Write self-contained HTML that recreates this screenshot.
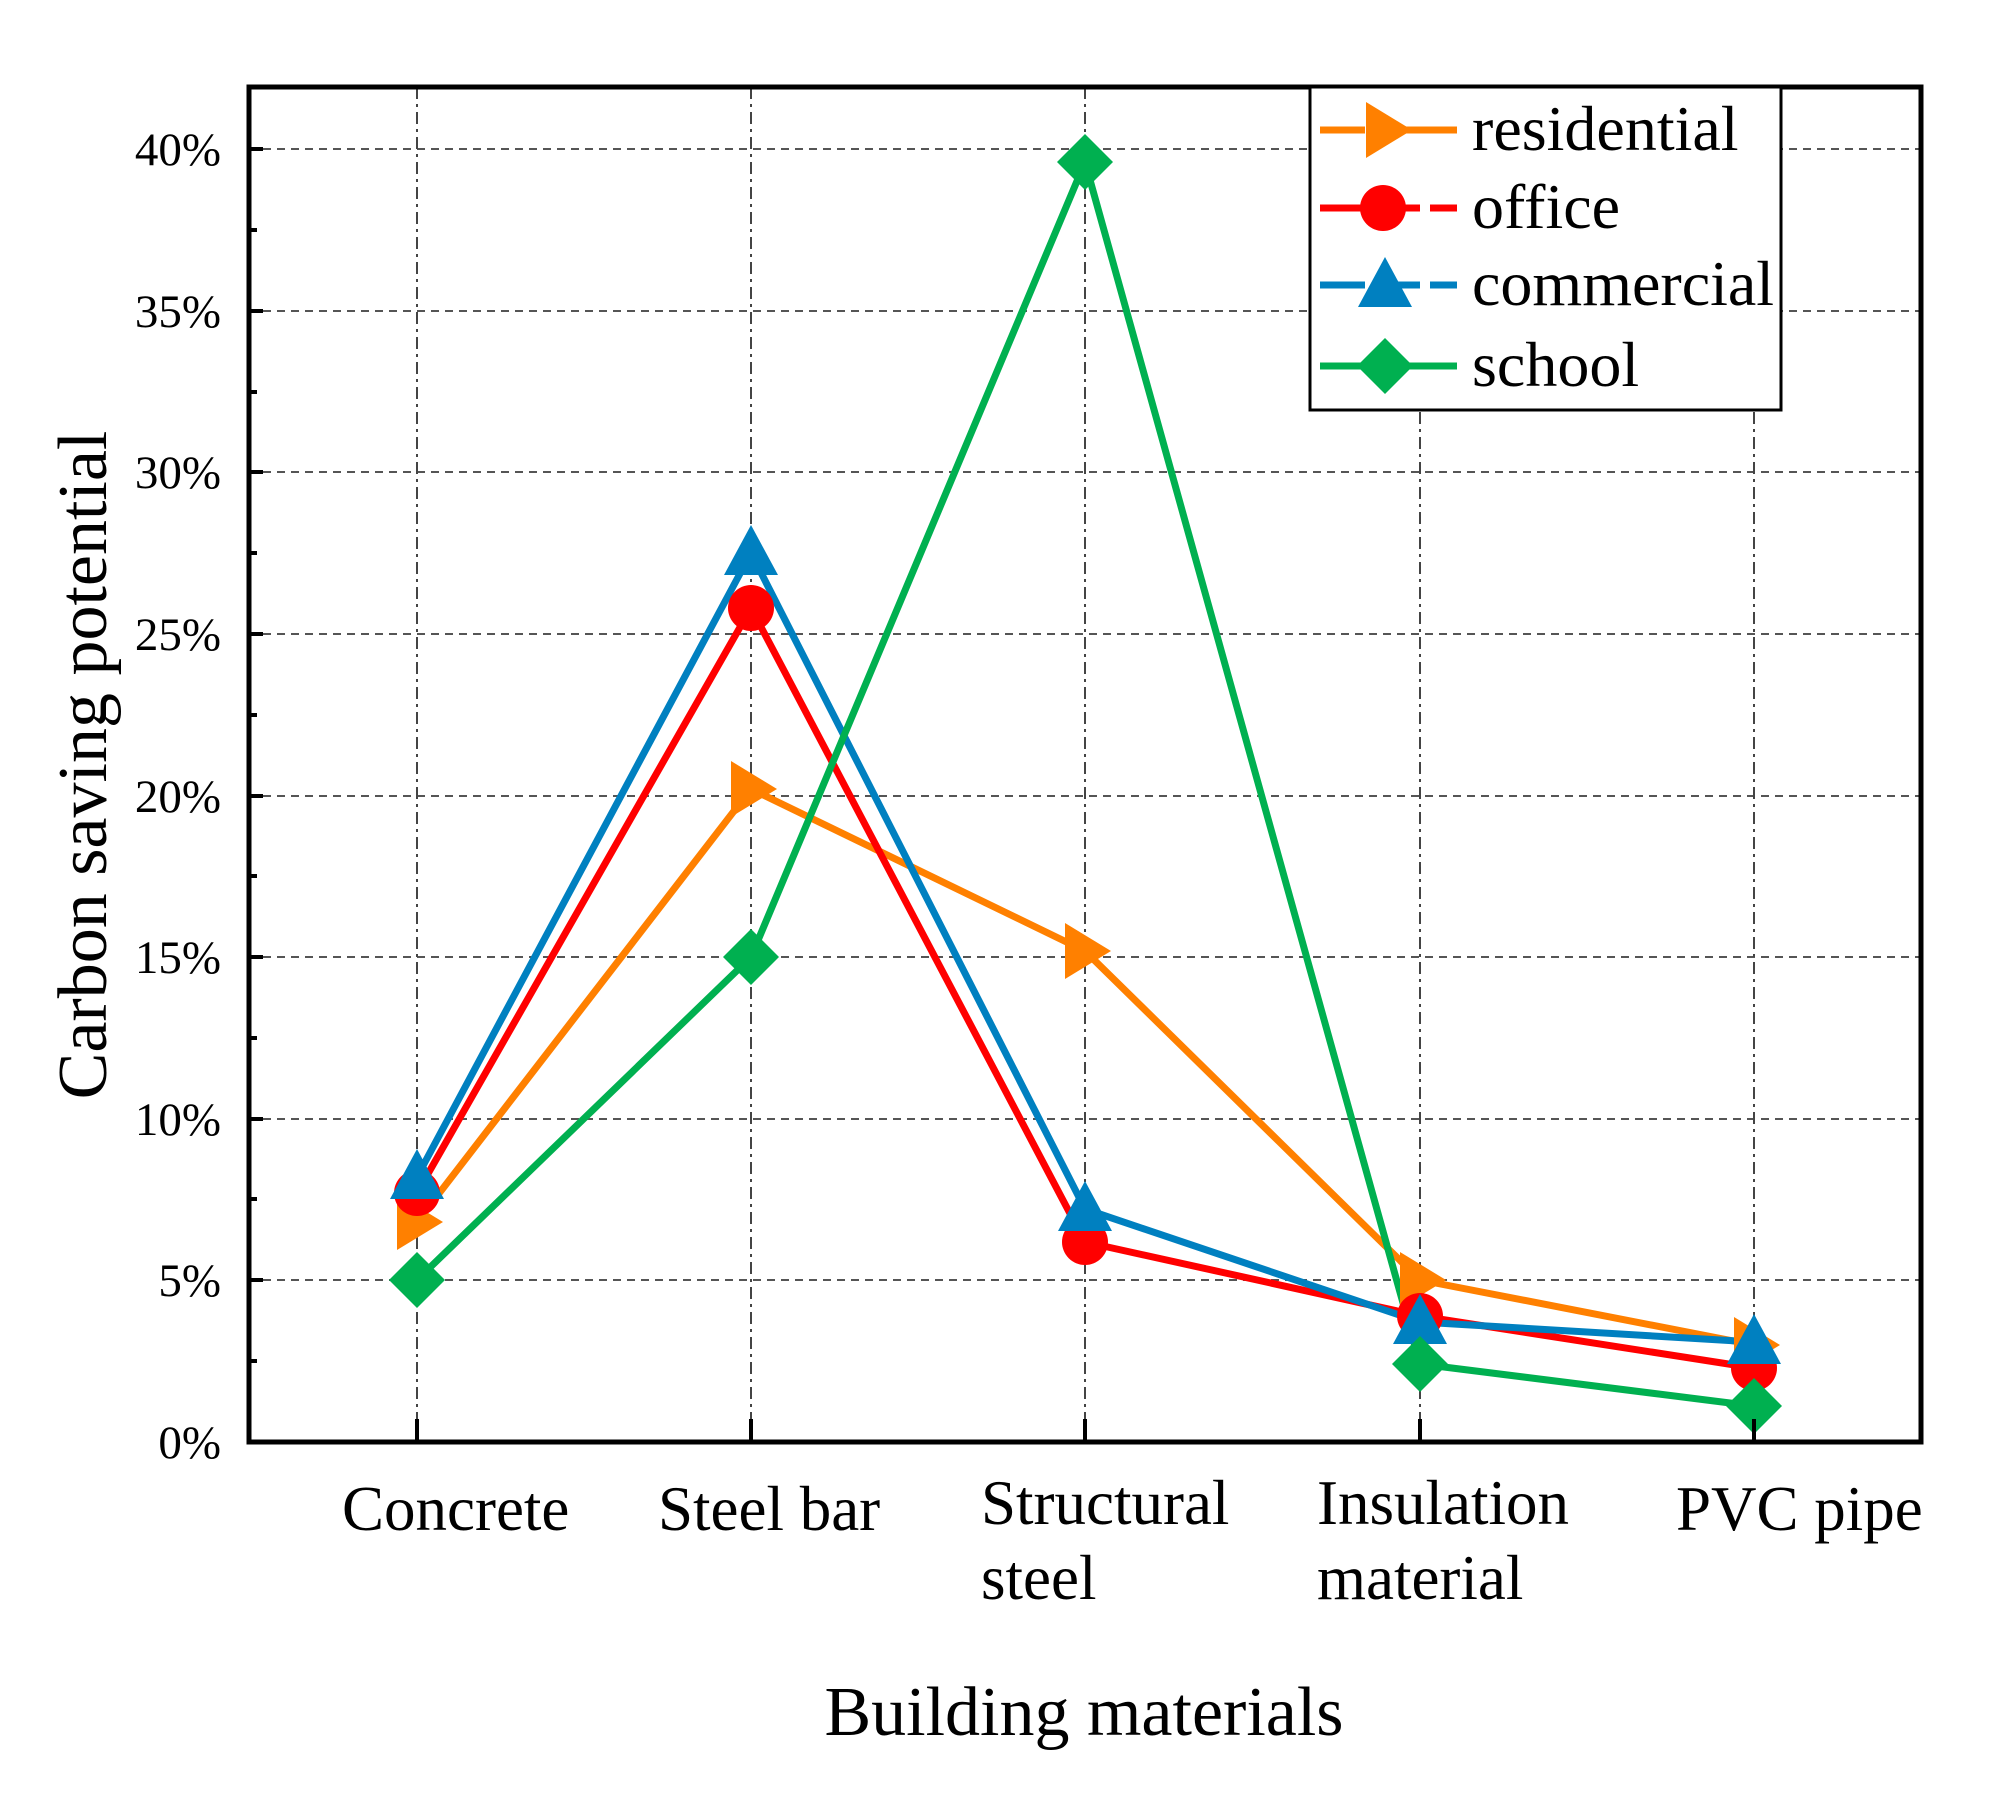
<!DOCTYPE html>
<html><head><meta charset="utf-8"><style>html,body{margin:0;padding:0;background:#fff}svg{display:block}</style></head>
<body>
<svg width="1999" height="1798" viewBox="0 0 1999 1798" xmlns="http://www.w3.org/2000/svg" font-family="Liberation Serif, serif">
<defs>
<g id="tri-r"><polygon points="-20,-28 26,0 -20,28"/></g>
<g id="circ"><circle r="23"/></g>
<g id="tri-u"><polygon points="0,-28 27,22 -27,22"/></g>
<g id="dia"><polygon points="0,-28 28,0 0,28 -28,0"/></g>
</defs>
<g stroke="#555" stroke-width="2" stroke-dasharray="8,6">
<line x1="249" y1="149" x2="1921" y2="149"/>
<line x1="249" y1="311" x2="1921" y2="311"/>
<line x1="249" y1="472" x2="1921" y2="472"/>
<line x1="249" y1="634" x2="1921" y2="634"/>
<line x1="249" y1="796" x2="1921" y2="796"/>
<line x1="249" y1="957" x2="1921" y2="957"/>
<line x1="249" y1="1119" x2="1921" y2="1119"/>
<line x1="249" y1="1280" x2="1921" y2="1280"/>
</g>
<g stroke="#444" stroke-width="2" stroke-dasharray="12,5,3,5">
<line x1="417" y1="87" x2="417" y2="1442"/>
<line x1="751" y1="87" x2="751" y2="1442"/>
<line x1="1085" y1="87" x2="1085" y2="1442"/>
<line x1="1420" y1="87" x2="1420" y2="1442"/>
<line x1="1754" y1="87" x2="1754" y2="1442"/>
</g>
<g fill="none" stroke-width="7" stroke-linejoin="round">
<polyline stroke="#FF8000" points="417,1222 751,789 1085,951 1420,1280 1754,1345"/>
<polyline stroke="#FF0000" points="417,1193 751,608 1085,1242 1420,1316 1754,1368"/>
<polyline stroke="#0080C0" points="417,1177 751,553 1085,1209 1420,1322 1754,1342"/>
<polyline stroke="#00B050" points="417,1280 751,957 1085,162 1420,1364 1754,1406"/>
</g>
<g fill="#FF8000">
<use href="#tri-r" x="417" y="1222"/><use href="#tri-r" x="751" y="789"/><use href="#tri-r" x="1085" y="951"/><use href="#tri-r" x="1420" y="1280"/><use href="#tri-r" x="1754" y="1345"/>
</g>
<g fill="#FF0000">
<use href="#circ" x="417" y="1193"/><use href="#circ" x="751" y="608"/><use href="#circ" x="1085" y="1242"/><use href="#circ" x="1420" y="1316"/><use href="#circ" x="1754" y="1368"/>
</g>
<g fill="#0080C0">
<use href="#tri-u" x="417" y="1177"/><use href="#tri-u" x="751" y="553"/><use href="#tri-u" x="1085" y="1209"/><use href="#tri-u" x="1420" y="1322"/><use href="#tri-u" x="1754" y="1342"/>
</g>
<g fill="#00B050">
<use href="#dia" x="417" y="1280"/><use href="#dia" x="751" y="957"/><use href="#dia" x="1085" y="162"/><use href="#dia" x="1420" y="1364"/><use href="#dia" x="1754" y="1406"/>
</g>
<rect x="249" y="87" width="1672" height="1355" fill="none" stroke="#000" stroke-width="5"/>
<g stroke="#000" stroke-width="4">
<line x1="249" y1="149" x2="263" y2="149"/><line x1="249" y1="230" x2="257" y2="230"/>
<line x1="249" y1="311" x2="263" y2="311"/><line x1="249" y1="392" x2="257" y2="392"/>
<line x1="249" y1="472" x2="263" y2="472"/><line x1="249" y1="553" x2="257" y2="553"/>
<line x1="249" y1="634" x2="263" y2="634"/><line x1="249" y1="715" x2="257" y2="715"/>
<line x1="249" y1="796" x2="263" y2="796"/><line x1="249" y1="876" x2="257" y2="876"/>
<line x1="249" y1="957" x2="263" y2="957"/><line x1="249" y1="1038" x2="257" y2="1038"/>
<line x1="249" y1="1119" x2="263" y2="1119"/><line x1="249" y1="1199" x2="257" y2="1199"/>
<line x1="249" y1="1280" x2="263" y2="1280"/><line x1="249" y1="1361" x2="257" y2="1361"/>
<line x1="417" y1="1442" x2="417" y2="1419"/><line x1="751" y1="1442" x2="751" y2="1419"/>
<line x1="1085" y1="1442" x2="1085" y2="1419"/><line x1="1420" y1="1442" x2="1420" y2="1419"/>
<line x1="1754" y1="1442" x2="1754" y2="1419"/>
</g>
<g font-size="47" text-anchor="end" fill="#000">
<text x="221" y="165">40%</text><text x="221" y="327">35%</text><text x="221" y="488">30%</text>
<text x="221" y="650">25%</text><text x="221" y="812">20%</text><text x="221" y="973">15%</text>
<text x="221" y="1135">10%</text><text x="221" y="1296">5%</text><text x="221" y="1458">0%</text>
</g>
<g font-size="63" fill="#000">
<text x="342" y="1530">Concrete</text>
<text x="658" y="1530">Steel bar</text>
<text x="981" y="1524">Structural</text><text x="981" y="1599">steel</text>
<text x="1317" y="1524">Insulation</text><text x="1317" y="1599">material</text>
<text x="1676" y="1530">PVC pipe</text>
</g>
<text x="1084" y="1735" font-size="70" text-anchor="middle">Building materials</text>
<text transform="translate(106,765) rotate(-90)" font-size="70" text-anchor="middle">Carbon saving potential</text>
<rect x="1310" y="87" width="471" height="323" fill="#fff" stroke="#000" stroke-width="3"/>
<g stroke-width="7">
<line x1="1320" y1="130" x2="1457" y2="130" stroke="#FF8000" stroke-dasharray="45,10,200"/>
<line x1="1320" y1="208" x2="1457" y2="208" stroke="#FF0000" stroke-dasharray="45,10"/>
<line x1="1320" y1="285" x2="1457" y2="285" stroke="#0080C0" stroke-dasharray="45,10"/>
<line x1="1320" y1="366" x2="1457" y2="366" stroke="#00B050"/>
</g>
<use href="#tri-r" x="1386" y="130" fill="#FF8000"/>
<use href="#circ" x="1383" y="208" fill="#FF0000"/>
<use href="#tri-u" x="1385" y="285" fill="#0080C0"/>
<use href="#dia" x="1385" y="366" fill="#00B050"/>
<g font-size="64" fill="#000">
<text x="1472" y="150">residential</text>
<text x="1472" y="228">office</text>
<text x="1472" y="305">commercial</text>
<text x="1472" y="386">school</text>
</g>
</svg>
</body></html>
